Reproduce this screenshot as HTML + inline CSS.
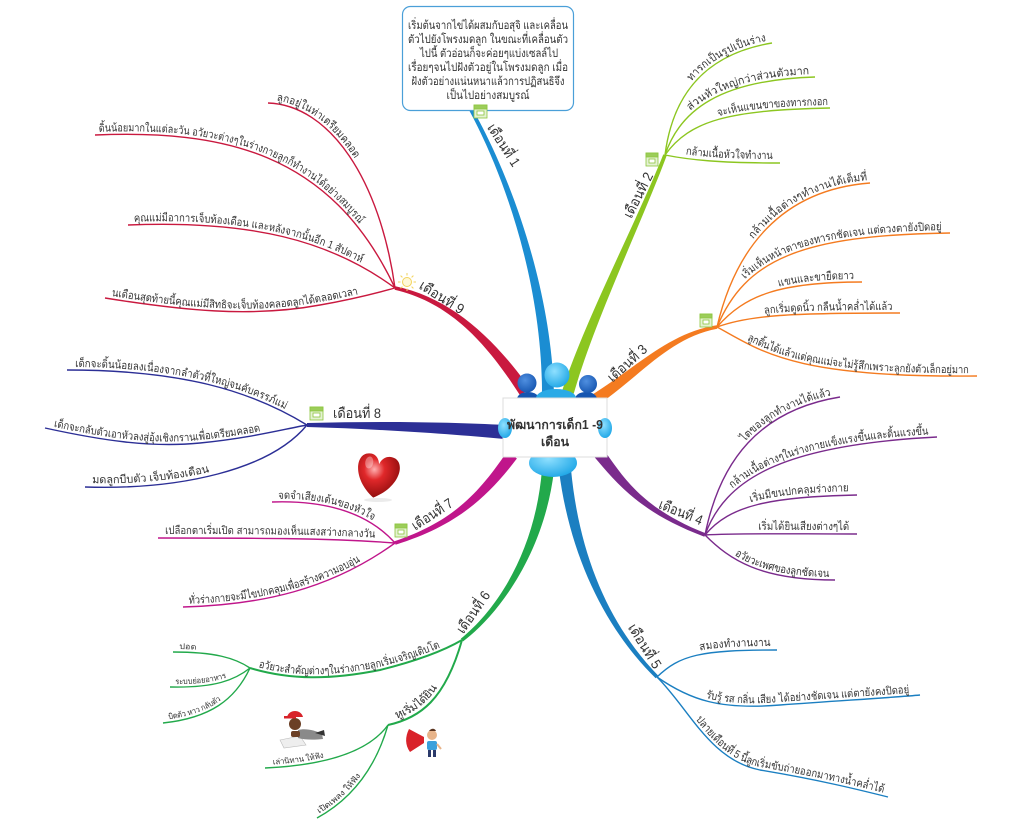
<!DOCTYPE html>
<html>
<head>
<meta charset="utf-8">
<style>
html,body{margin:0;padding:0;background:#fff;}
svg{display:block;}
text{font-family:"Liberation Sans","DejaVu Sans","Noto Sans CJK SC",sans-serif;fill:#333;}
.s{font-size:11px;}
.xs{font-size:8px;}
.m{font-size:14px;}
</style>
</head>
<body>
<svg width="1024" height="822" viewBox="0 0 1024 822" xmlns="http://www.w3.org/2000/svg" xmlns:xlink="http://www.w3.org/1999/xlink">
<defs>
  <path id="p2a" d="M665,155 C672,100 700,55 772,43"/>
  <path id="p2b" d="M665,155 C680,110 720,80 815,77"/>
  <path id="p2c" d="M665,155 C690,120 730,110 830,108"/>
  <path id="p2d" d="M665,155 C690,160 720,163 780,163"/>

  <path id="p3a" d="M717,327 C735,250 780,190 870,183"/>
  <path id="p3b" d="M717,327 C745,260 800,235 950,233"/>
  <path id="p3c" d="M717,327 C745,295 780,282 862,282"/>
  <path id="p3d" d="M717,327 C750,315 790,313 900,313"/>
  <path id="p3e" d="M717,327 C760,350 790,378 977,376"/>

  <path id="p4a" d="M705,535 C720,460 760,410 840,397"/>
  <path id="p4b" d="M705,535 C725,480 780,445 937,437"/>
  <path id="p4c" d="M705,535 C730,505 770,497 857,495"/>
  <path id="p4d" d="M705,535 C740,533 790,534 857,534"/>
  <path id="p4e" d="M705,535 C730,560 760,580 835,580"/>

  <path id="p5a" d="M657,677 C680,655 700,650 777,650"/>
  <path id="p5b" d="M657,677 C690,700 720,710 780,705 C850,700 900,697 920,695"/>
  <path id="p5c" d="M657,677 C690,710 710,760 760,770 C820,780 860,790 888,797"/>

  <path id="p6a" d="M250,668 C290,680 330,680 380,670 C420,660 445,650 462,640"/>
  <path id="p6a1" d="M173,652 C215,652 235,658 250,668"/>
  <path id="p6a2" d="M170,687 C215,688 235,680 250,668"/>
  <path id="p6a3" d="M163,723 C210,718 235,700 250,668"/>
  <path id="p6b" d="M388,725 C420,718 445,700 462,640"/>
  <path id="p6b1" d="M265,768 C330,765 370,750 388,725"/>
  <path id="p6b2" d="M317,818 C350,800 375,770 388,725"/>

  <path id="p7a" d="M272,502 C330,500 370,515 395,543"/>
  <path id="p7b" d="M158,538 C250,538 330,538 395,543"/>
  <path id="p7c" d="M183,607 C260,605 330,590 395,543"/>

  <path id="p8a" d="M67,370 C180,370 250,390 307,425"/>
  <path id="p8b" d="M45,428 C100,440 150,448 200,443 C250,438 280,430 307,425"/>
  <path id="p8c" d="M85,487 C180,490 270,470 307,425"/>

  <path id="p9a" d="M268,103 C330,105 380,180 395,288"/>
  <path id="p9b" d="M95,135 C220,130 330,150 395,288"/>
  <path id="p9c" d="M128,225 C250,220 330,240 395,288"/>
  <path id="p9d" d="M105,298 C180,310 250,318 320,305 C360,298 380,292 395,288"/>

  <radialGradient id="heartG" cx="0.4" cy="0.35" r="0.7">
    <stop offset="0" stop-color="#ffb0b0"/>
    <stop offset="0.35" stop-color="#e0282a"/>
    <stop offset="1" stop-color="#8a0a0a"/>
  </radialGradient>
  <radialGradient id="headL" cx="0.4" cy="0.35" r="0.7">
    <stop offset="0" stop-color="#8fe0ff"/>
    <stop offset="1" stop-color="#1da6e6"/>
  </radialGradient>
  <radialGradient id="headD" cx="0.4" cy="0.35" r="0.7">
    <stop offset="0" stop-color="#4f8fe0"/>
    <stop offset="1" stop-color="#1555b0"/>
  </radialGradient>
</defs>

<!-- main branches (filled tapers) -->
<g stroke="none">
  <path fill="#1b8dd2" d="M554,395 C551.5,290 512.2,178.8 471.6,107.1 L468.4,108.9 C507.8,181.2 542.5,290 542,395 Z"/>
  <path fill="#8cc620" d="M573.7,393.8 C594.3,321.3 642.3,220.9 666.7,155.6 L663.3,154.4 C637.7,219.1 585.7,318.7 562.3,390.2 Z"/>
  <path fill="#f47b20" d="M598.3,405 C642.5,373.7 670.4,337.5 717.3,328.8 L716.7,325.2 C669.6,332.5 637.5,366.3 591.7,395 Z"/>
  <path fill="#7a2b8c" d="M593.3,455.7 C616.5,482.8 639.1,512.3 704.4,536.7 L705.6,533.3 C640.9,507.7 623.5,477.2 602.7,448.3 Z"/>
  <path fill="#1b7fc1" d="M559,470.7 C570.5,560.5 608.2,631.8 655.7,678.3 L658.3,675.7 C611.8,628.2 579.5,559.5 571,469.3 Z"/>
  <path fill="#22a94b" d="M542,469.4 C535.5,549.6 498.5,608 460.9,638.6 L463.1,641.4 C501.5,612 544.5,550.4 554,470.6 Z"/>
  <path fill="#c0168b" d="M507.1,451.5 C476.3,497.4 449.2,522.6 394.4,541.3 L395.6,544.7 C450.8,527.4 483.7,502.6 516.9,458.5 Z"/>
  <path fill="#2c2f96" d="M505.5,425 C450.4,422 380,421 307,423 L307,427 C380,429 449.6,434 504.5,439 Z"/>
  <path fill="#c9193f" d="M530,388.7 C493.7,337.5 450.5,297.6 395.4,286.2 L394.6,289.8 C449.5,302.4 486.3,342.5 520,395.3 Z"/>
</g>

<!-- sub branches -->
<g fill="none" stroke-width="1.4">
  <g stroke="#8cc620">
    <use href="#p2a"/><use href="#p2b"/><use href="#p2c"/><use href="#p2d"/>
  </g>
  <g stroke="#f47b20">
    <use href="#p3a"/><use href="#p3b"/><use href="#p3c"/><use href="#p3d"/><use href="#p3e"/>
  </g>
  <g stroke="#7a2b8c">
    <use href="#p4a"/><use href="#p4b"/><use href="#p4c"/><use href="#p4d"/><use href="#p4e"/>
  </g>
  <g stroke="#1b7fc1">
    <use href="#p5a"/><use href="#p5b"/><use href="#p5c"/>
  </g>
  <g stroke="#22a94b">
    <use href="#p6a" stroke-width="2"/><use href="#p6a1"/><use href="#p6a2"/><use href="#p6a3"/>
    <use href="#p6b" stroke-width="2"/><use href="#p6b1"/><use href="#p6b2"/>
  </g>
  <g stroke="#c0168b">
    <use href="#p7a"/><use href="#p7b"/><use href="#p7c"/>
  </g>
  <g stroke="#2c2f96">
    <use href="#p8a"/><use href="#p8b"/><use href="#p8c"/>
  </g>
  <g stroke="#c9193f">
    <use href="#p9a"/><use href="#p9b"/><use href="#p9c"/><use href="#p9d"/>
  </g>
</g>

<!-- sub branch labels: right side -->
<g class="s">
  <text dy="-3"><textPath href="#p2a" startOffset="97%" text-anchor="end" textLength="85" lengthAdjust="spacingAndGlyphs">ทารกเป็นรูปเป็นร่าง</textPath></text>
  <text dy="-3"><textPath href="#p2b" startOffset="97%" text-anchor="end" textLength="125" lengthAdjust="spacingAndGlyphs">ส่วนหัวใหญ่กว่าส่วนตัวมาก</textPath></text>
  <text dy="-3"><textPath href="#p2c" startOffset="99%" text-anchor="end" textLength="110" lengthAdjust="spacingAndGlyphs">จะเห็นแขนขาของทารกงอก</textPath></text>
  <text dy="-4"><textPath href="#p2d" startOffset="94%" text-anchor="end" textLength="88" lengthAdjust="spacingAndGlyphs">กล้ามเนื้อหัวใจทำงาน</textPath></text>

  <text dy="-3"><textPath href="#p3a" startOffset="99%" text-anchor="end" textLength="130" lengthAdjust="spacingAndGlyphs">กล้ามเนื้อต่างๆทำงานได้เต็มที่</textPath></text>
  <text dy="-3"><textPath href="#p3b" startOffset="97%" text-anchor="end" textLength="205" lengthAdjust="spacingAndGlyphs">เริ่มเห็นหน้าตาของทารกชัดเจน แต่ดวงตายังปิดอยู่</textPath></text>
  <text dy="-3"><textPath href="#p3c" startOffset="95%" text-anchor="end" textLength="75" lengthAdjust="spacingAndGlyphs">แขนและขายืดยาว</textPath></text>
  <text dy="-3"><textPath href="#p3d" startOffset="96%" text-anchor="end" textLength="128" lengthAdjust="spacingAndGlyphs">ลูกเริ่มดูดนิ้ว กลืนน้ำคล่ำได้แล้ว</textPath></text>
  <text dy="-3"><textPath href="#p3e" startOffset="97%" text-anchor="end" textLength="228" lengthAdjust="spacingAndGlyphs">ลูกดิ้นได้แล้วแต่คุณแม่จะไม่รู้สึกเพราะลูกยังตัวเล็กอยู่มาก</textPath></text>

  <text dy="-3"><textPath href="#p4a" startOffset="96%" text-anchor="end" textLength="98" lengthAdjust="spacingAndGlyphs">ไตของลูกทำงานได้แล้ว</textPath></text>
  <text dy="-3"><textPath href="#p4b" startOffset="97%" text-anchor="end" textLength="205" lengthAdjust="spacingAndGlyphs">กล้ามเนื้อต่างๆในร่างกายแข็งแรงขึ้นและดิ้นแรงขึ้น</textPath></text>
  <text dy="-4"><textPath href="#p4c" startOffset="95%" text-anchor="end" textLength="98" lengthAdjust="spacingAndGlyphs">เริ่มมีขนปกคลุมร่างกาย</textPath></text>
  <text dy="-4"><textPath href="#p4d" startOffset="95%" text-anchor="end" textLength="91" lengthAdjust="spacingAndGlyphs">เริ่มได้ยินเสียงต่างๆได้</textPath></text>
  <text dy="-3"><textPath href="#p4e" startOffset="96%" text-anchor="end" textLength="100" lengthAdjust="spacingAndGlyphs">อวัยวะเพศของลูกชัดเจน</textPath></text>

  <text dy="-4"><textPath href="#p5a" startOffset="95%" text-anchor="end" textLength="70" lengthAdjust="spacingAndGlyphs">สมองทำงานงาน</textPath></text>
  <text dy="-3"><textPath href="#p5b" startOffset="96%" text-anchor="end" textLength="205" lengthAdjust="spacingAndGlyphs">รับรู้ รส กลิ่น เสียง ได้อย่างชัดเจน แต่ตายังคงปิดอยู่</textPath></text>
  <text dy="-3"><textPath href="#p5c" startOffset="98%" text-anchor="end" textLength="210" lengthAdjust="spacingAndGlyphs">ปลายเดือนที่ 5 นี้ลูกเริ่มขับถ่ายออกมาทางน้ำคล่ำได้</textPath></text>
</g>

<!-- sub branch labels: left side -->
<g class="s">
  <text dy="-3"><textPath href="#p6a" startOffset="8" textLength="188" lengthAdjust="spacingAndGlyphs">อวัยวะสำคัญต่างๆในร่างกายลูกเริ่มเจริญเติบโต</textPath></text>
  <text dy="-4"><textPath href="#p6b" startOffset="10" textLength="55" lengthAdjust="spacingAndGlyphs">หูเริ่มได้ยิน</textPath></text>

  <text dy="-3"><textPath href="#p7a" startOffset="6" textLength="97" lengthAdjust="spacingAndGlyphs">จดจำเสียงเต้นของหัวใจ</textPath></text>
  <text dy="-4"><textPath href="#p7b" startOffset="7" textLength="210" lengthAdjust="spacingAndGlyphs">เปลือกตาเริ่มเปิด สามารถมองเห็นแสงสว่างกลางวัน</textPath></text>
  <text dy="-3"><textPath href="#p7c" startOffset="6" textLength="180" lengthAdjust="spacingAndGlyphs">ทั่วร่างกายจะมีไขปกคลุมเพื่อสร้างความอบอุ่น</textPath></text>

  <text dy="-3"><textPath href="#p8a" startOffset="8" textLength="215" lengthAdjust="spacingAndGlyphs">เด็กจะดิ้นน้อยลงเนื่องจากลำตัวที่ใหญ่จนคับครรภ์แม่</textPath></text>
  <text dy="-3"><textPath href="#p8b" startOffset="8" textLength="210" lengthAdjust="spacingAndGlyphs">เด็กจะกลับตัวเอาหัวลงสู่อุ้งเชิงกรานเพื่อเตรียมคลอด</textPath></text>
  <text dy="-4"><textPath href="#p8c" startOffset="7" textLength="119" lengthAdjust="spacingAndGlyphs">มดลูกบีบตัว เจ็บท้องเดือน</textPath></text>

  <text dy="-3"><textPath href="#p9a" startOffset="8" textLength="98" lengthAdjust="spacingAndGlyphs">ลูกอยู่ในท่าเตรียมคลอด</textPath></text>
  <text dy="-3"><textPath href="#p9b" startOffset="4" textLength="285" lengthAdjust="spacingAndGlyphs">ดิ้นน้อยมากในแต่ละวัน อวัยวะต่างๆในร่างกายลูกก็ทำงานได้อย่างสมบูรณ์</textPath></text>
  <text dy="-3"><textPath href="#p9c" startOffset="6" textLength="232" lengthAdjust="spacingAndGlyphs">คุณแม่มีอาการเจ็บท้องเดือน และหลังจากนั้นอีก 1 สัปดาห์</textPath></text>
  <text dy="-3"><textPath href="#p9d" startOffset="6" textLength="250" lengthAdjust="spacingAndGlyphs">นเดือนสุดท้ายนี้คุณแม่มีสิทธิจะเจ็บท้องคลอดลูกได้ตลอดเวลา</textPath></text>
</g>
<g class="xs">
  <text dy="-3"><textPath href="#p6a1" startOffset="6" textLength="17" lengthAdjust="spacingAndGlyphs">ปอด</textPath></text>
  <text dy="-3"><textPath href="#p6a2" startOffset="5" textLength="53" lengthAdjust="spacingAndGlyphs">ระบบย่อยอาหาร</textPath></text>
  <text dy="-3"><textPath href="#p6a3" startOffset="6" textLength="58" lengthAdjust="spacingAndGlyphs">บิดตัว หาว กลับตัว</textPath></text>
  <text dy="-3"><textPath href="#p6b1" startOffset="8" textLength="52" lengthAdjust="spacingAndGlyphs">เล่านิทาน ให้ฟัง</textPath></text>
  <text dy="-3"><textPath href="#p6b2" startOffset="4" textLength="58" lengthAdjust="spacingAndGlyphs">เปิดเพลง ให้ฟัง</textPath></text>
</g>

<!-- main labels -->
<g class="m" text-anchor="middle" dominant-baseline="central">
  <text transform="translate(504,145) rotate(57)" textLength="48" lengthAdjust="spacingAndGlyphs">เดือนที่ 1</text>
  <text transform="translate(638,195) rotate(-63)" textLength="49" lengthAdjust="spacingAndGlyphs">เดือนที่ 2</text>
  <text transform="translate(627,363) rotate(-42)" textLength="48" lengthAdjust="spacingAndGlyphs">เดือนที่ 3</text>
  <text transform="translate(681,512) rotate(22)" textLength="46" lengthAdjust="spacingAndGlyphs">เดือนที่ 4</text>
  <text transform="translate(645,646) rotate(58)" textLength="50" lengthAdjust="spacingAndGlyphs">เดือนที่ 5</text>
  <text transform="translate(473,612) rotate(-55)" textLength="48" lengthAdjust="spacingAndGlyphs">เดือนที่ 6</text>
  <text transform="translate(432,514) rotate(-33)" textLength="46" lengthAdjust="spacingAndGlyphs">เดือนที่ 7</text>
  <text transform="translate(357,413)" textLength="48" lengthAdjust="spacingAndGlyphs">เดือนที่ 8</text>
  <text transform="translate(442,297) rotate(32)" textLength="50" lengthAdjust="spacingAndGlyphs">เดือนที่ 9</text>
</g>

<!-- month 1 box -->
<rect x="402.5" y="6.5" width="171" height="104" rx="8" ry="8" fill="#fff" stroke="#4a9fd8" stroke-width="1.2"/>
<g font-size="11.5" text-anchor="middle">
  <text x="488" y="29" textLength="160" lengthAdjust="spacingAndGlyphs">เริ่มต้นจากไข่ได้ผสมกับอสุจิ และเคลื่อน</text>
  <text x="488" y="43" textLength="160" lengthAdjust="spacingAndGlyphs">ตัวไปยังโพรงมดลูก ในขณะที่เคลื่อนตัว</text>
  <text x="489" y="57" textLength="138" lengthAdjust="spacingAndGlyphs">ไปนี้ ตัวอ่อนก็จะค่อยๆแบ่งเซลล์ไป</text>
  <text x="488" y="71" textLength="160" lengthAdjust="spacingAndGlyphs">เรื่อยๆจนไปฝังตัวอยู่ในโพรงมดลูก เมื่อ</text>
  <text x="488" y="85" textLength="153" lengthAdjust="spacingAndGlyphs">ฝังตัวอย่างแน่นหนาแล้วการปฏิสนธิจึง</text>
  <text x="488" y="99" textLength="83" lengthAdjust="spacingAndGlyphs">เป็นไปอย่างสมบูรณ์</text>
</g>

<!-- calendar icons -->
<g stroke="#8dc63f" stroke-width="0.8">
  <g transform="translate(474,105)"><rect width="13" height="13" fill="#e4f2d2"/><rect width="13" height="4" fill="#9ccd5a"/><rect x="3" y="6" width="7" height="4" fill="#fff"/></g>
  <g transform="translate(646,153)"><rect width="12" height="13" fill="#e4f2d2"/><rect width="12" height="4" fill="#9ccd5a"/><rect x="3" y="6" width="6" height="4" fill="#fff"/></g>
  <g transform="translate(700,314)"><rect width="12" height="13" fill="#e4f2d2"/><rect width="12" height="4" fill="#9ccd5a"/><rect x="3" y="6" width="6" height="4" fill="#fff"/></g>
  <g transform="translate(395,524)"><rect width="12" height="13" fill="#e4f2d2"/><rect width="12" height="4" fill="#9ccd5a"/><rect x="3" y="6" width="6" height="4" fill="#fff"/></g>
  <g transform="translate(310,407)"><rect width="13" height="13" fill="#e4f2d2"/><rect width="13" height="4" fill="#9ccd5a"/><rect x="3" y="6" width="7" height="4" fill="#fff"/></g>
</g>

<!-- sun icon -->
<g transform="translate(407,282)" stroke="#f2d35c" stroke-width="1" fill="none">
  <circle r="4.5" fill="#fff8d8"/>
  <line x1="0" y1="-6.5" x2="0" y2="-9"/>
  <line x1="0" y1="6.5" x2="0" y2="9"/>
  <line x1="-6.5" y1="0" x2="-9" y2="0"/>
  <line x1="6.5" y1="0" x2="9" y2="0"/>
  <line x1="4.6" y1="4.6" x2="6.4" y2="6.4"/>
  <line x1="-4.6" y1="4.6" x2="-6.4" y2="6.4"/>
  <line x1="4.6" y1="-4.6" x2="6.4" y2="-6.4"/>
  <line x1="-4.6" y1="-4.6" x2="-6.4" y2="-6.4"/>
</g>

<!-- heart -->
<g transform="rotate(10 377 476)">
  <path d="M377,498 C352,482 352,456 366,455 C372,454 376,459 377,464 C378,459 383,454 389,455 C403,456 403,482 377,498 Z" fill="url(#heartG)"/>
  <ellipse cx="367" cy="464" rx="4" ry="6" fill="#fff" opacity="0.35"/>
</g>
<ellipse cx="378" cy="500" rx="14" ry="2" fill="#ddd" opacity="0.6"/>

<!-- boy reading -->
<g>
  <path d="M280,740 L300,736 L306,745 L284,748 Z" fill="#eee" stroke="#bbb" stroke-width="0.6"/>
  <path d="M298,730 C305,728 315,730 322,734 L323,739 C314,740 305,740 298,738 Z" fill="#8a8a8a"/>
  <path d="M315,733 L324,730 L325,736 Z" fill="#333"/>
  <circle cx="295" cy="724" r="6" fill="#6b3f25"/>
  <path d="M287,717 C289,709 301,709 303,717 Z" fill="#d8232a"/>
  <rect x="284" y="716" width="12" height="2.5" fill="#d8232a"/>
  <rect x="291" y="731" width="9" height="6" rx="2" fill="#6b3f25"/>
</g>

<!-- megaphone kid -->
<g>
  <path d="M424,737 L409,729 C405,737 405,745 410,752 L424,743 Z" fill="#d9222a"/>
  <circle cx="432" cy="735" r="5" fill="#e8b48a"/>
  <path d="M429,731 C431,728 435,728 436,731 Z" fill="#5a3520"/>
  <rect x="427" y="741" width="10" height="9" rx="2" fill="#3aa0dc"/>
  <rect x="428" y="750" width="3" height="7" fill="#2b3a6b"/>
  <rect x="433" y="750" width="3" height="7" fill="#2b3a6b"/>
  <line x1="437" y1="744" x2="441" y2="749" stroke="#e8b48a" stroke-width="2"/>
</g>

<!-- central figure -->
<g>
  <ellipse cx="553" cy="463" rx="24" ry="14" fill="url(#headL)"/>
  <ellipse cx="528" cy="399" rx="11" ry="7" fill="#1555b0"/>
  <ellipse cx="586" cy="399" rx="11" ry="7" fill="#1555b0"/>
  <ellipse cx="556" cy="398" rx="20" ry="9" fill="#2aaae6"/>
  <circle cx="527" cy="383" r="9.5" fill="url(#headD)"/>
  <circle cx="588" cy="384" r="9" fill="url(#headD)"/>
  <circle cx="557" cy="375" r="12.5" fill="url(#headL)"/>
  <rect x="503" y="398" width="104" height="59" fill="#fff" stroke="#dcdcdc" stroke-width="1"/>
  <ellipse cx="505" cy="428" rx="7" ry="10" fill="url(#headL)"/>
  <ellipse cx="605" cy="428" rx="7" ry="10" fill="url(#headL)"/>
  <text x="555" y="429" font-size="12.5" font-weight="bold" text-anchor="middle" fill="#333" textLength="96" lengthAdjust="spacingAndGlyphs">พัฒนาการเด็ก1 -9</text>
  <text x="555" y="446" font-size="12.5" font-weight="bold" text-anchor="middle" fill="#333" textLength="28" lengthAdjust="spacingAndGlyphs">เดือน</text>
</g>
</svg>
</body>
</html>
